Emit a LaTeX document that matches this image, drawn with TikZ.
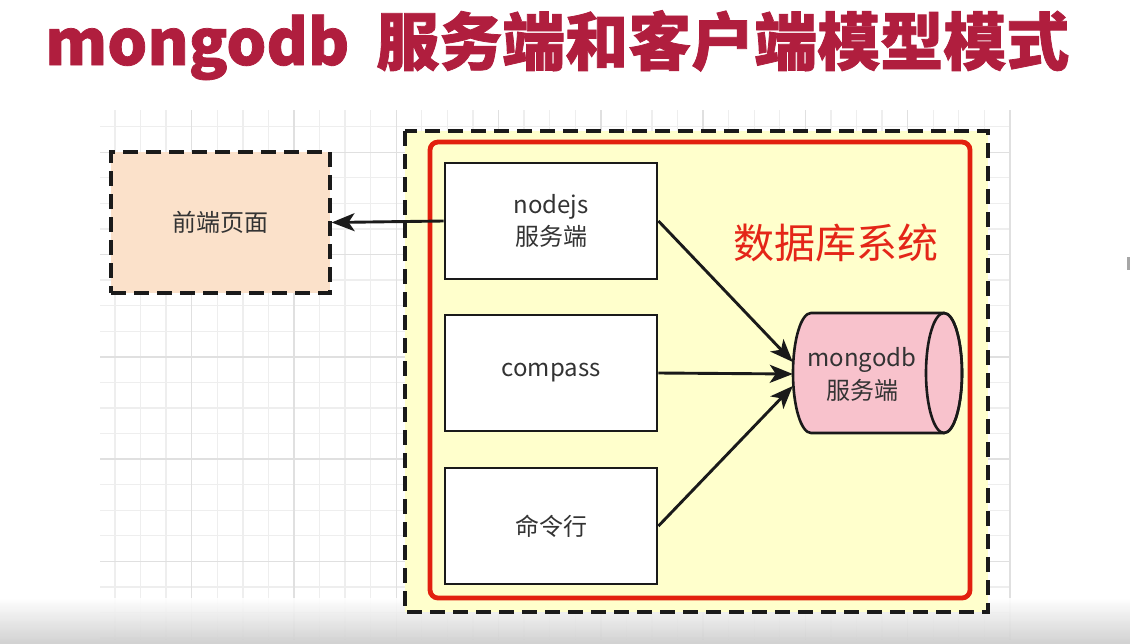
\documentclass[tikz,border=0pt]{standalone}
\usepackage{fontspec}
\setmainfont{Noto Sans CJK SC}
\usetikzlibrary{arrows.meta}
\definecolor{titlered}{RGB}{176,30,62}
\definecolor{peach}{RGB}{251,225,202}
\definecolor{paleyellow}{RGB}{255,255,204}
\definecolor{borderred}{RGB}{226,32,14}
\definecolor{labelred}{RGB}{228,38,24}
\definecolor{dbpink}{RGB}{248,194,204}
\definecolor{txtgray}{RGB}{51,51,51}
\definecolor{gridminor}{RGB}{238,238,238}
\definecolor{gridmajor}{RGB}{224,224,224}
\definecolor{bandgray}{RGB}{205,205,205}
\definecolor{edge}{RGB}{26,26,26}
\tikzset{
  dashbox/.style={draw=edge, line width=3.2pt, dash pattern=on 15pt off 8pt},
  whitebox/.style={draw=edge, fill=white, line width=2.9pt, minimum width=212pt, minimum height=116pt, inner sep=0pt, align=center, text=txtgray, font=\fontsize{24}{32}\selectfont},
  conn/.style={draw=edge, line width=2.9pt, -{Stealth[length=23pt,width=18pt,inset=6pt]}},
  gminor/.style={draw=gridminor, line width=1.3pt},
  gmajor/.style={draw=gridmajor, line width=1.5pt}
}
\begin{document}
\begin{tikzpicture}[x=1pt,y=1pt]
\useasboundingbox (0,0) rectangle (1130,-643);
\fill[white] (0,0) rectangle (1130,-643);
% grid
\foreach \k in {0,...,35} { \pgfmathsetmacro\xx{115+25.57*\k} \draw[gminor] (\xx,-110) -- (\xx,-640); }
\foreach \k in {0,...,20} { \pgfmathsetmacro\yy{126.7+25.57*\k} \draw[gminor] (100,-\yy) -- (1010,-\yy); }
\foreach \k in {3,7,...,35} { \pgfmathsetmacro\xx{115+25.57*\k} \draw[gmajor] (\xx,-110) -- (\xx,-640); }
\foreach \k in {1,5,...,17} { \pgfmathsetmacro\yy{126.7+25.57*\k} \draw[gmajor] (100,-\yy) -- (1010,-\yy); }
% bottom band
\shade[top color=white, bottom color=bandgray, fill opacity=0.9] (0,-598) rectangle (1130,-643);
% small mark at right
\fill[gray!70] (1127,-257) rectangle (1130,-270);
% title
\node[anchor=base west, inner sep=0pt, text=titlered, font=\fontsize{63}{63}\selectfont\bfseries\addfontfeature{FakeBold=1.2}] (title) at (45,-65) {mongodb\hspace{27pt}服务端和客户端模型模式};
% front-end box
\node[dashbox, fill=peach, minimum width=219pt, minimum height=141pt, inner sep=0pt, text=txtgray, font=\fontsize{24}{28}\selectfont] (fe) at (220.5,-222.5) {前端页面};
% containers
\draw[dashbox, fill=paleyellow] (405,-131) rectangle (988,-612);
\draw[draw=borderred, line width=4.8pt, rounded corners=8pt] (430,-142) rectangle (970,-598);
% client boxes
\node[whitebox] (nodejs) at (551,-221) {nodejs\\服务端};
\node[whitebox] (compass) at (551,-373) {compass};
\node[whitebox] (cli) at (551,-526) {命令行};
% system label
\node[text=labelred, font=\fontsize{41}{43}\selectfont, inner sep=0pt] (syslabel) at (836,-243) {数据库系统};
% cylinder
\path[fill=dbpink, draw=edge, line width=2.6pt]
  (811,-313) -- (944,-313) arc[start angle=90, end angle=-90, x radius=18, y radius=60]
  -- (811,-433) arc[start angle=270, end angle=90, x radius=18, y radius=60] -- cycle;
\draw[edge, line width=2.6pt] (944,-373) ellipse[x radius=18, y radius=60];
\node[minimum width=138pt, minimum height=120pt, inner sep=0pt, align=center, text=txtgray, font=\fontsize{24}{33}\selectfont] (db) at (862,-374) {mongodb\\服务端};
% connectors
\draw[conn] (nodejs.west) -- (fe.east);
\draw[conn] (nodejs.east) -- ([yshift=12pt]db.west);
\draw[conn] (compass.east) -- (db.west);
\draw[conn] (cli.east) -- ([yshift=-12pt]db.west);
\end{tikzpicture}
\end{document}
